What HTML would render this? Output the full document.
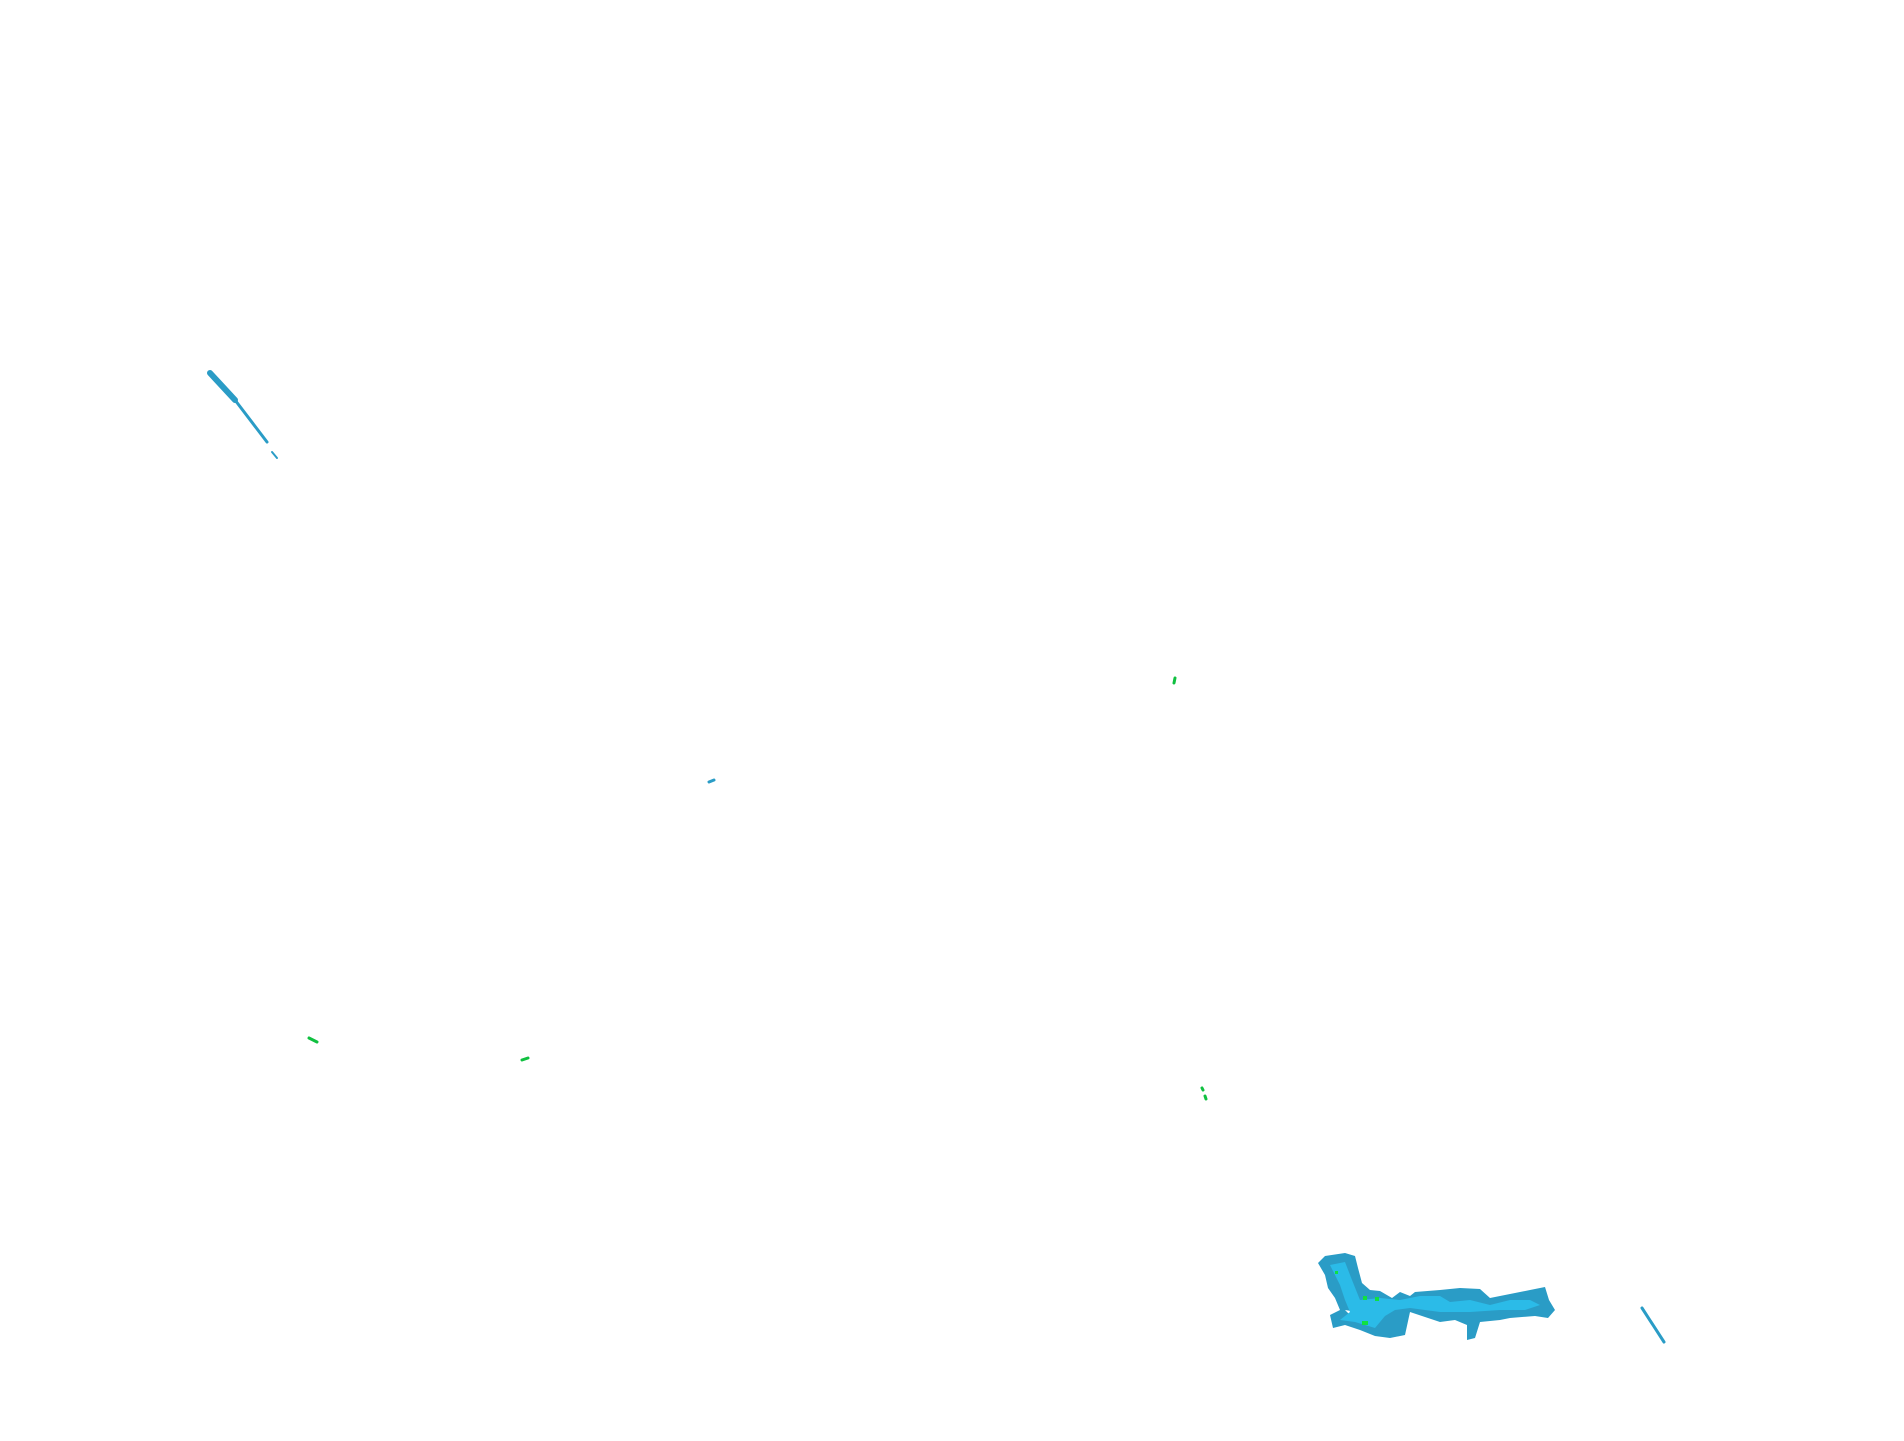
<!DOCTYPE html><html><head><style>html,body{margin:0;padding:0;background:#fff}svg{display:block}</style></head><body>
<svg width="1904" height="1441" viewBox="0 0 1904 1441" xmlns="http://www.w3.org/2000/svg">
<g stroke="#2a9cc6" stroke-linecap="round" fill="none">
<line x1="210" y1="373" x2="235" y2="400" stroke-width="6"/>
<line x1="235" y1="400" x2="267" y2="442" stroke-width="3"/>
<line x1="272" y1="452" x2="277" y2="458" stroke-width="2"/>
<line x1="1642" y1="1308" x2="1664" y2="1342" stroke-width="3"/>
<line x1="709" y1="782" x2="714" y2="780" stroke-width="3"/>
</g>
<g stroke="#10c040" stroke-width="3" stroke-linecap="round">
<line x1="309" y1="1038" x2="317" y2="1042"/>
<line x1="522" y1="1060" x2="528" y2="1058"/>
<line x1="1175" y1="678" x2="1174" y2="683"/>
<line x1="1202" y1="1088" x2="1203" y2="1090"/>
<line x1="1205" y1="1096" x2="1206" y2="1099"/>
</g>
<path d="M1318,1263 L1325,1256 L1345,1253 L1355,1256 L1358,1268 L1362,1283 L1370,1290 L1380,1291 L1392,1298 L1400,1292 L1410,1296 L1415,1292 L1440,1290 L1460,1288 L1480,1289 L1490,1298 L1500,1296 L1510,1294 L1530,1290 L1545,1287 L1549,1300 L1555,1310 L1548,1318 L1535,1316 L1510,1318 L1500,1320 L1480,1322 L1475,1338 L1467,1340 L1467,1325 L1455,1320 L1440,1322 L1428,1318 L1410,1312 L1405,1335 L1390,1338 L1375,1336 L1360,1330 L1345,1325 L1333,1328 L1330,1315 L1340,1310 L1335,1298 L1328,1288 L1325,1275 Z" fill="#2a9cc6"/>
<path d="M1345,1310 L1370,1314 L1372,1322 L1355,1320 Z" fill="#fff"/>
<path d="M1330,1265 L1345,1262 L1352,1280 L1360,1300 L1380,1298 L1400,1300 L1420,1296 L1440,1296 L1450,1302 L1470,1300 L1490,1305 L1510,1300 L1530,1300 L1540,1305 L1525,1310 L1500,1310 L1470,1312 L1440,1312 L1410,1308 L1395,1310 L1385,1316 L1375,1328 L1355,1322 L1340,1320 L1350,1312 L1345,1300 L1340,1285 Z" fill="#2bbbe8"/>
<g fill="#10e040"><rect x="1363" y="1296" width="4" height="4"/><rect x="1375" y="1297" width="4" height="4"/><rect x="1362" y="1321" width="6" height="4"/><rect x="1335" y="1271" width="3" height="3"/></g>
</svg>
</body></html>
